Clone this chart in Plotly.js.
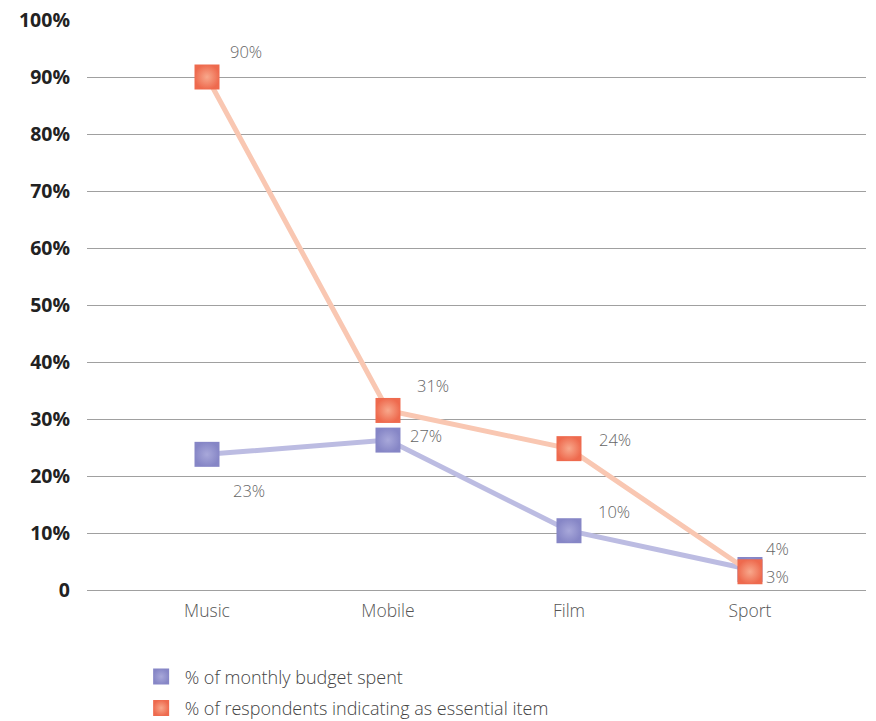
<!DOCTYPE html>
<html>
<head>
<meta charset="utf-8">
<script src="https://cdn.plot.ly/plotly-3.0.1.min.js"></script>
<style>
  html, body { margin: 0; padding: 0; background: #fff; }
  #chart { width: 876px; height: 721px; }
</style>
</head>
<body>
<div id="chart"></div>
<script>
// categories and series
var categories = ['Music', 'Mobile', 'Film', 'Sport'];
var budgetSpent = [23.8, 26.3, 10.4, 3.6];
var essentialItem = [90, 31.5, 24.8, 3.2];
var budgetLabels = ['23%', '27%', '10%', '4%'];
var essentialLabels = ['90%', '31%', '24%', '3%'];
var yTickVals = [0, 10, 20, 30, 40, 50, 60, 70, 80, 90, 100];
var yTickText = ['0', '10%', '20%', '30%', '40%', '50%', '60%', '70%', '80%', '90%', '100%'];

// label offsets in px from the marker (style, not data)
var budgetOffsets = [[42, 36], [38, -5], [45, -19], [28, -21]];
var essentialOffsets = [[39, -26], [45, -25], [46, -9], [28, 5]];

var FONT = '"Open Sans", Roboto, "DejaVu Sans", sans-serif';

function makeTrace(name, vals, lineColor, centerColor, edgeColor) {
  return {
    type: 'scatter',
    mode: 'lines+markers',
    name: name,
    x: categories,
    y: vals,
    showlegend: false,
    line: { color: lineColor, width: 5 },
    marker: {
      symbol: 'square',
      size: 25,
      color: centerColor,
      gradient: { type: 'radial', color: edgeColor },
      line: { width: 0 }
    },
    hoverinfo: 'skip'
  };
}

function legendTrace(name, group, centerColor, edgeColor) {
  return {
    type: 'scatter',
    mode: 'markers',
    name: name,
    legendgroup: group,
    x: [null],
    y: [null],
    marker: {
      symbol: 'square',
      size: 25,
      color: centerColor,
      gradient: { type: 'radial', color: edgeColor },
      line: { width: 0 }
    }
  };
}

var purple = { line: '#bcbce2', c: '#8686c6', e: '#a8a8da' };
var orange = { line: '#f9c7b2', c: '#ee6a4e', e: '#f8a88c' };

var data = [
  makeTrace('% of monthly budget spent', budgetSpent, purple.line, purple.c, purple.e),
  makeTrace('% of respondents indicating as essential item', essentialItem, orange.line, orange.c, orange.e),
  legendTrace('% of monthly budget spent', 'a', purple.c, purple.e),
  legendTrace('% of respondents indicating as essential item', 'b', orange.c, orange.e)
];

var annotations = [];
function addLabels(vals, labels, offsets) {
  vals.forEach(function (v, i) {
    annotations.push({
      x: categories[i], y: v, xref: 'x', yref: 'y',
      text: labels[i], showarrow: false,
      xshift: offsets[i][0], yshift: -offsets[i][1],
      font: { family: FONT, size: 16.5, color: '#666', weight: 300 }
    });
  });
}
addLabels(budgetSpent, budgetLabels, budgetOffsets);
addLabels(essentialItem, essentialLabels, essentialOffsets);

var layout = {
  width: 876,
  height: 721,
  margin: { l: 87, r: 10, t: 20, b: 131, autoexpand: false },
  paper_bgcolor: '#fff',
  plot_bgcolor: '#fff',
  font: { family: FONT, color: '#444' },
  xaxis: {
    type: 'category',
    range: [-0.663, 3.641],
    showgrid: false,
    zeroline: false,
    showline: false,
    ticks: '',
    ticklabelstandoff: 8,
    tickfont: { family: FONT, size: 17.5, color: '#555', weight: 300 },
    fixedrange: true
  },
  yaxis: {
    range: [0, 100],
    tickvals: yTickVals,
    ticktext: yTickText,
    showgrid: true,
    gridcolor: '#a0a0a0',
    gridwidth: 1,
    zeroline: true,
    zerolinecolor: '#a0a0a0',
    zerolinewidth: 1,
    showline: false,
    ticks: '',
    ticklabelstandoff: 16,
    tickfont: { family: FONT, size: 19.5, color: '#222', weight: 'bold' },
    fixedrange: true
  },
  showlegend: true,
  legend: {
    orientation: 'v',
    x: 0.065,
    xanchor: 'left',
    y: -0.12,
    yanchor: 'top',
    itemwidth: 37,
    font: { family: FONT, size: 18, color: '#444', weight: 300 },
    tracegroupgap: 5,
    itemsizing: 'trace'
  },
  annotations: annotations
};

Plotly.newPlot('chart', data, layout, { displayModeBar: false, staticPlot: true });
</script>
</body>
</html>
